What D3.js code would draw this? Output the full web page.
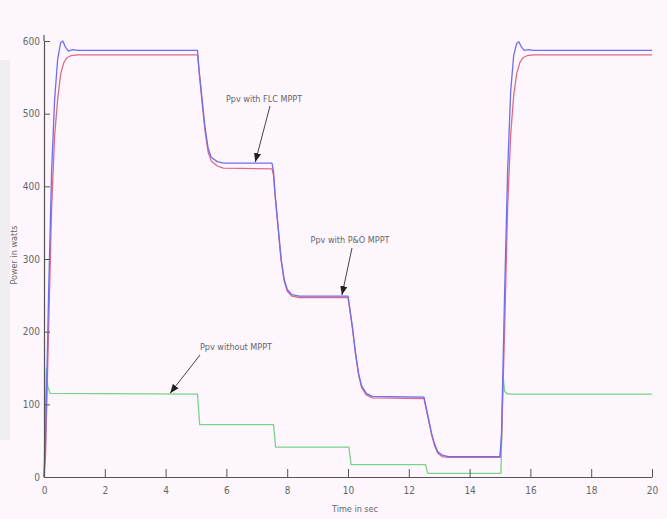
<!DOCTYPE html>
<html><head><meta charset="utf-8">
<script src="https://cdn.jsdelivr.net/npm/d3@7"></script>
<style>
html,body{margin:0;padding:0;background:#fdf7fd;}
svg{display:block;}
text{font-family:"Liberation Sans Narrow","DejaVu Sans Condensed",sans-serif;fill:#666;}
</style></head><body>
<svg id="c" width="667" height="519"></svg>
<script>
// ---- data ----
const xTicks = [0,2,4,6,8,10,12,14,16,18,20];
const yTicks = [0,100,200,300,400,500,600];

const tFLC = [0,0.05,0.15,0.25,0.35,0.45,0.55,0.62,0.7,0.8,0.95,1.1,
  5.0,5.05,5.1,5.2,5.3,5.4,5.5,5.7,5.9,
  7.5,7.55,7.6,7.7,7.8,7.9,8.0,8.15,8.4,
  10.0,10.05,10.15,10.25,10.35,10.45,10.6,10.8,
  12.5,12.55,12.65,12.75,12.85,12.95,13.1,13.3,
  15.0,15.05,15.15,15.25,15.35,15.45,15.55,15.62,15.7,15.8,15.95,16.1,20];
const pFLC = [0,50,250,420,520,575,598,600,592,586,588,587,
  587,587,560,520,480,452,440,434,432,
  432,420,390,345,300,272,258,251,249,
  249,235,205,170,142,125,115,111,
  110,100,80,60,45,35,30,28,
  28,60,250,420,530,580,597,599,592,587,588,587,587];

const tPO = [0,0.05,0.15,0.25,0.35,0.45,0.55,0.65,0.75,0.9,1.1,
  5.0,5.05,5.1,5.2,5.3,5.4,5.5,5.7,5.9,
  7.5,7.55,7.6,7.7,7.8,7.9,8.0,8.15,8.4,
  10.0,10.05,10.15,10.25,10.35,10.45,10.6,10.8,
  12.5,12.55,12.65,12.75,12.85,12.95,13.1,13.3,
  15.0,15.05,15.15,15.25,15.35,15.45,15.55,15.65,15.75,15.9,16.1,20];
const pPO = [0,30,200,370,470,520,555,570,577,580,581,
  581,581,560,515,475,447,435,428,425,
  424,415,388,343,298,270,256,249,247,
  247,233,203,168,140,123,113,109,
  108,98,78,58,43,33,28,27,
  27,50,200,370,470,525,555,570,577,580,581,581];

const tNo = [0,0.03,0.08,0.12,0.2,5.05,5.12,7.55,7.62,10.03,10.1,12.55,12.62,15.03,15.07,15.1,15.15,15.25,20];
const pNo = [0,60,150,125,115,114,72,72,41,41,17,17,5,5,80,140,118,114,114];

const notes = [
  {label:"Ppv with FLC MPPT", tx:264, ty:99, x1:270, y1:106, t:6.95, p:432},
  {label:"Ppv with P&O MPPT", tx:350, ty:240, x1:352, y1:248, t:9.8, p:249},
  {label:"Ppv without MPPT",  tx:236, ty:347, x1:200, y1:355, t:4.15, p:114}
];

// ---- drawing ----
const svg = d3.select("#c");
const x = d3.scaleLinear().domain([0,20]).range([44,652]);
const y = d3.scaleLinear().domain([0,600]).range([477,41]);

svg.append("rect").attr("x",0).attr("y",60).attr("width",10).attr("height",380).attr("fill","#f1eef1");

svg.append("defs").append("marker").attr("id","ah")
  .attr("viewBox","0 0 10 10").attr("refX",10).attr("refY",5)
  .attr("markerWidth",9).attr("markerHeight",9).attr("orient","auto-start-reverse")
  .attr("markerUnits","userSpaceOnUse")
  .append("path").attr("d","M0,1 L10,5 L0,9 z").attr("fill","#222");

const line = d3.line().x(d=>x(d[0])).y(d=>y(d[1]));
function series(t,p,color,w){
  svg.append("path").datum(d3.zip(t,p)).attr("d",line)
    .attr("fill","none").attr("stroke",color).attr("stroke-width",w)
    .attr("stroke-linejoin","round");
}
series(tNo,pNo,"#78d288",1.3);
series(tPO,pPO,"#e06a86",1.3);
series(tFLC,pFLC,"#6e6ef0",1.3);

// axes
const gx = svg.append("g").attr("transform",`translate(0,${y(0)})`)
  .call(d3.axisBottom(x).tickValues(xTicks).tickSizeInner(-8).tickSizeOuter(0).tickPadding(10));
const gy = svg.append("g").attr("transform",`translate(${x(0)},0)`)
  .call(d3.axisLeft(y).tickValues(yTicks).tickSizeInner(-6).tickSizeOuter(0).tickPadding(4));
[gx,gy].forEach(g=>{
  g.select(".domain").attr("stroke","#555").attr("stroke-width",1.2);
  g.selectAll(".tick line").attr("stroke","#555");
  g.selectAll("text").attr("font-size",10).attr("fill","#777")
    .style("font-family","'Liberation Sans Narrow','DejaVu Sans Condensed',sans-serif");
});
// y axis line extends a bit above 600
svg.append("line").attr("x1",x(0)).attr("x2",x(0)).attr("y1",y(600)).attr("y2",35)
  .attr("stroke","#555").attr("stroke-width",1.2);

svg.append("text").attr("x",355).attr("y",512).attr("text-anchor","middle")
  .attr("font-size",9).text("Time in sec");
svg.append("text").attr("transform","translate(17,255) rotate(-90)")
  .attr("text-anchor","middle").attr("font-size",9).text("Power in watts");

notes.forEach(n=>{
  svg.append("text").attr("x",n.tx).attr("y",n.ty).attr("dy","0.35em")
    .attr("text-anchor","middle").attr("font-size",9).text(n.label);
  svg.append("line").attr("x1",n.x1).attr("y1",n.y1)
    .attr("x2",x(n.t)).attr("y2",y(n.p)-1)
    .attr("stroke","#444").attr("stroke-width",1).attr("marker-end","url(#ah)");
});
</script>
</body></html>
